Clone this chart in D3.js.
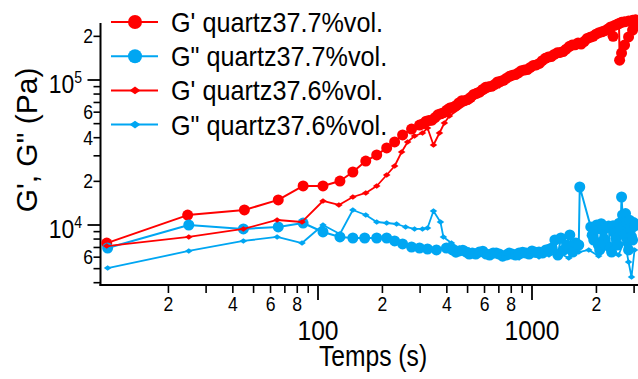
<!DOCTYPE html>
<html><head><meta charset="utf-8">
<script src="https://cdn.jsdelivr.net/npm/d3@7/dist/d3.min.js"></script>
<style>body{margin:0;background:#fff}svg{display:block;font-family:Arial,"Liberation Sans",sans-serif}</style>
</head><body><svg id="c" width="638" height="379"></svg>
<script>
// ---- data (time in s, modulus in Pa) ----
const gp377Time = [10.3,24.6,45.3,65.2,85.2,105.5,126.6,145.5,167.2,188.1,
  209.4,228.1,248.5,273.6,298.2,310,320,330,341,352,
  363,375,387,400,413,427,441,455,470,485,
  501,517,534,551,569,588,607,627,647,668,
  690,713,736,760,785,810,837,864,892,921,
  951,982,1014,1047,1082,1117,1154,1191,1230,1270,
  1312,1354,1398,1444,1491,1540,1590,1642,1696,1751,
  1808,1867,1928,1991,2056,2123,2193,2264,2330,2393,
  2430,2500,2550,2567,2621,2707,2826,2950,3046,2621,
  2707,2826,2950,3046];
const gp377 = [7500,11700,12700,14900,18600,18600,20100,23200,27600,30400,
  34000,37400,41800,45900,48900,50000,52000,52500,52800,55000,
  57500,58500,59500,62000,64000,65000,66500,69500,72000,72000,
  73500,76000,79500,81000,82500,86000,89000,90000,90500,93000,
  97000,98000,99500,103000,106000,108000,109000,112000,116000,117000,
  118000,122000,126000,127000,130000,136000,141000,144000,145000,150000,
  154000,155000,157000,163000,170000,174000,175000,180000,177000,184000,
  193000,197000,200000,207000,212000,215000,219000,225000,232000,200000,
  238000,242000,245000,137000,153500,174000,198000,221000,236000,250000,
  252000,255000,258000,260000];

const gpp377Time = [10.4,24.9,44.8,65.2,85.2,105.5,126.6,145.5,165.3,188.1,
  209.4,228.1,248.5,273.6,298.2,324.9,357.7,398,424.6,441,
  457.7,475,493,509,526,546,567,589,611,634,
  658.5,680,702,729,757,782,807,838,870,904,
  938,969,1000,1039,1078,1119,1161,1200,1239,1279,
  1321,1364,1409,1455,1502,1551,1602,1654,1672,1882,
  1910,1943,1975,2006,2040,2072,2105,2139,2175,2209,
  2245,2281,2318,2355,2393,2432,2470,2512,2553,2594,
  2621,2649,2680,2707,2736,2766,2796,2826,2857,2887,
  2918,2950,2982,3014];
const gpp377 = [6940,10000,9390,9690,10320,8950,8270,8135,8135,8135,
  8135,7760,7400,7050,6940,6830,6725,6940,6725,6500,
  6620,6700,6510,6300,6410,6300,6510,6600,6310,6200,
  6410,6400,6310,6100,6210,6400,6310,6200,6410,6500,
  6410,6300,6620,6500,6510,6400,6725,6800,6940,7880,
  6210,8135,6725,7280,8530,6510,7510,7280,18280,9690,
  8500,7880,9300,10000,7300,6725,10200,9240,8000,7280,
  9600,9840,7000,6510,9900,8810,8100,7280,10300,9540,
  15600,11720,9700,8530,12000,10490,7600,6725,10800,9240,
  8300,7880,10400,9840];

const gp376Time = [10.3,24.9,44.8,64.4,84.2,105.5,125.2,145.5,167.2,188.1,209.4,228.1,245.9,262.3,282.6,307.8,324.9,346.4,369.4,389.6,411.1,509,702,1078,1654,2281];
const gp376 = [7160,8270,9390,10830,10490,14640,13740,15600,16630,18580,22120,25520,31870,37400,41100,43100,46670,35620,43100,50500,56450,70500,90900,126900,177000,221000];

const gpp376Time = [10.4,24.9,44.8,64.4,84.2,105.5,126.6,145.5,167.2,188.1,209.4,233,256.7,282.6,307.8,324.9,346.4,373.4,385.5,420.1,457.7,509,567,631,702,781.7,870,968,1078,1200,1335,1486,1654,1842,2049,2281,2540,2707,2826,2918,3014];
const gpp376 = [5050,6620,7760,8270,7510,10000,8670,12690,11720,10490,10320,10160,9690,9390,9390,9540,12490,10490,8270,7510,6940,6725,6410,6210,6110,6015,5920,6110,6015,6210,6410,5920,6510,6725,6110,7280,6210,7880,5555,4380,6725];

const seriesNames = ["G' quartz37.7%vol.", "G\" quartz37.7%vol.", "G' quartz37.6%vol.", "G\" quartz37.6%vol."];
const xMinorTicks = [20,30,40,50,60,70,80,90,200,300,400,500,600,700,800,900,2000,3000];
const xMajorTicks = [100,1000];
const xMinorLabels = [[20,"2"],[40,"4"],[60,"6"],[80,"8"],[200,"2"],[400,"4"],[600,"6"],[800,"8"],[2000,"2"]];
const yMinorTicks = [4000,5000,6000,7000,8000,9000,20000,30000,40000,50000,60000,70000,80000,90000,200000];
const yMajorTicks = [10000,100000];
const yMinorLabels = [[6000,"6"],[20000,"2"],[40000,"4"],[60000,"6"],[200000,"2"]];
const yMajorLabels = [[10000,"10","4"],[100000,"10","5"]];
const xTitle = "Temps (s)";
const yTitle = "G', G\" (Pa)";

// ---- drawing ----
const RED = "#ff0000", BLUE = "#00a6f2", SX = 0.88;
const svg = d3.select("#c");
svg.append("rect").attr("width",638).attr("height",379).attr("fill","#fff");

const x = d3.scaleLog().domain([100,1000]).range([318,532]);
const y = d3.scaleLog().domain([1e4,1e5]).range([225,80]);
const X0 = 100.5, X1 = 638, Y0 = 285, Y1 = 23;

function txt(px, py, s, size, anchor, sx) {
  return svg.append("text").attr("transform",`translate(${px},${py}) scale(${sx===undefined?SX:sx},1)`)
    .attr("text-anchor",anchor).attr("font-size",size).attr("fill","#000").text(s);
}

// axes
const ax = svg.append("g").attr("stroke","#000").attr("fill","none");
ax.append("line").attr("x1",X0).attr("x2",X0).attr("y1",Y1).attr("y2",Y0+1).attr("stroke-width",2);
ax.append("line").attr("x1",X0-1).attr("x2",X1).attr("y1",Y0).attr("y2",Y0).attr("stroke-width",2);
xMinorTicks.forEach(v=>ax.append("line").attr("x1",x(v)).attr("x2",x(v)).attr("y1",Y0).attr("y2",Y0+8).attr("stroke-width",1.6));
xMajorTicks.forEach(v=>ax.append("line").attr("x1",x(v)).attr("x2",x(v)).attr("y1",Y0).attr("y2",Y0+15).attr("stroke-width",1.8));
yMinorTicks.forEach(v=>ax.append("line").attr("x1",X0).attr("x2",X0-7).attr("y1",y(v)).attr("y2",y(v)).attr("stroke-width",1.6));
yMajorTicks.forEach(v=>ax.append("line").attr("x1",X0).attr("x2",X0-13).attr("y1",y(v)).attr("y2",y(v)).attr("stroke-width",1.8));

xMinorLabels.forEach(([v,s])=>txt(x(v),311,s,20,"middle"));
xMajorTicks.forEach(v=>txt(x(v),340,String(v),28,"middle"));
yMinorLabels.forEach(([v,s])=>txt(93,y(v)+7,s,20,"end"));
yMajorLabels.forEach(([v,b,e])=>{
  const t = txt(82,y(v)+13,"",26,"end");
  t.append("tspan").text(b);
  t.append("tspan").attr("font-size",16).attr("dy",-10).text(e);
});
txt(373,366,xTitle,29,"middle",0.85);
svg.append("text").attr("transform","translate(37,140) rotate(-90)").attr("text-anchor","middle")
  .attr("font-size",30).text(yTitle);

// marks
function diamondPath(cx,cy,w,h){return `M${cx-w},${cy}L${cx},${cy-h}L${cx+w},${cy}L${cx},${cy+h}Z`;}
function drawSeries(ts, vs, color, big) {
  const pts = ts.map((t,i)=>[t,vs[i]]);
  const line = d3.line().x(d=>x(d[0])).y(d=>y(d[1]));
  const g = svg.append("g");
  g.append("path").attr("d",line(pts)).attr("fill","none").attr("stroke",color)
    .attr("stroke-width",big?2:1.8).attr("stroke-linejoin","round");
  if (big) {
    g.selectAll("circle").data(pts).join("circle").attr("cx",d=>x(d[0])).attr("cy",d=>y(d[1]))
      .attr("r",5.5).attr("fill",color);
  } else {
    g.selectAll("path.m").data(pts).join("path").attr("class","m")
      .attr("d",d=>diamondPath(x(d[0]),y(d[1]),3.8,2.8)).attr("fill",color);
  }
}
drawSeries(gp377Time, gp377, RED, true);
drawSeries(gpp377Time, gpp377, BLUE, true);
drawSeries(gp376Time, gp376, RED, false);
drawSeries(gpp376Time, gpp376, BLUE, false);

// legend
const legColors = [RED, BLUE, RED, BLUE], legBig = [true,true,false,false];
seriesNames.forEach((name,i)=>{
  const cy = 22 + i*34.2;
  svg.append("line").attr("x1",111).attr("x2",158).attr("y1",cy).attr("y2",cy)
    .attr("stroke",legColors[i]).attr("stroke-width",2);
  if (legBig[i]) svg.append("circle").attr("cx",135).attr("cy",cy).attr("r",7).attr("fill",legColors[i]);
  else svg.append("path").attr("d",diamondPath(135,cy,5.5,3.8)).attr("fill",legColors[i]);
  txt(171, cy+10, name, 28, "start", 0.9);
});
</script></body></html>
